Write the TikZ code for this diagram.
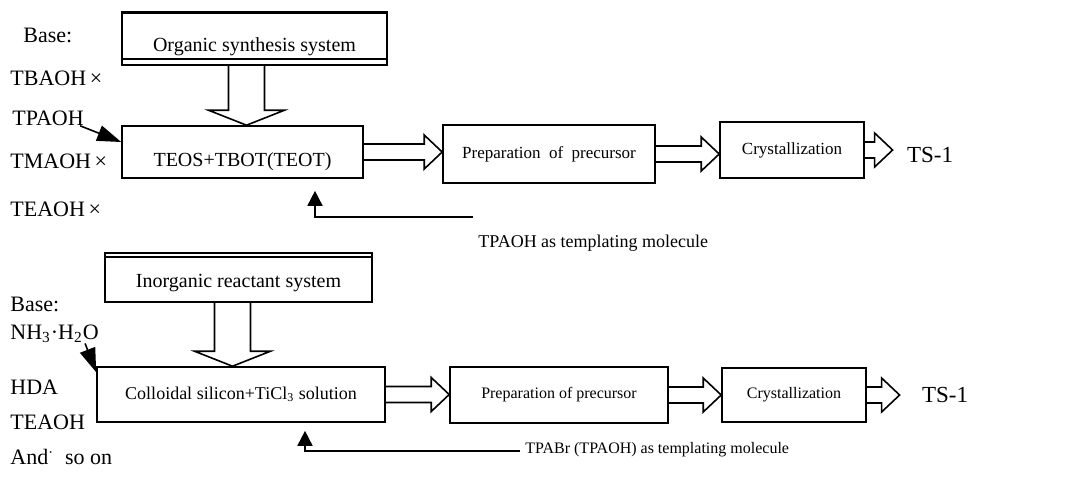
\documentclass[tikz,border=0pt]{standalone}
\usepackage{fontspec}
\setmainfont{Liberation Serif}
\usetikzlibrary{arrows.meta,calc}

\tikzset{
  stage/.style={draw, line width=0.8pt, inner sep=0pt, font=\fontsize{10}{12}\selectfont},
  hollow/.style={line width=0.8pt, line join=miter},
  base/.style={anchor=west, inner sep=0pt, font=\fontsize{11}{13}\selectfont},
  note/.style={anchor=west, inner sep=0pt},
  product/.style={inner sep=0pt, font=\fontsize{11.5}{13}\selectfont},
  feed/.style={line width=0.8pt, -{Triangle[length=12pt,width=8pt]}},
  upfeed/.style={line width=0.8pt, -{Triangle[length=7.5pt,width=7.5pt]}}
}

% open block arrow to the right, from #1 to #2
\newcommand{\fatright}[2]{%
  \draw[hollow] let \p1=(#1), \p2=(#2) in
    (\x1,\y1+4pt) -- (\x2-9pt,\y1+4pt) -- (\x2-9pt,\y1+8.5pt) -- (\x2,\y1)
    -- (\x2-9pt,\y1-8.5pt) -- (\x2-9pt,\y1-4pt) -- (\x1,\y1-4pt);}
% open block arrow downwards, from #1 to #2
\newcommand{\fatdown}[2]{%
  \draw[hollow] let \p1=(#1), \p2=(#2) in
    (\x1-9pt,\y1) -- (\x1-9pt,\y2+7.5pt) -- (\x1-19pt,\y2+7.5pt) -- (\x1,\y2)
    -- (\x1+19pt,\y2+7.5pt) -- (\x1+9pt,\y2+7.5pt) -- (\x1+9pt,\y1);}

\begin{document}
\begin{tikzpicture}[x=0.5pt, y=-0.5pt]
    \useasboundingbox (0,0) rectangle (1088,479);

    % Organic route
    \node[base] (base1) at (23,35) {Base:};
    \node[base] (tbaoh) at (10,78) {TBAOH\,×};
    \node[base] (tpaoh) at (12,118) {TPAOH};
    \node[base] (tmaoh) at (10,161) {TMAOH\,×};
    \node[base] (teaoh1) at (10,209) {TEAOH\,×};

    \node[stage, minimum width=132.5pt, minimum height=26pt, text height=12pt, text depth=0pt] (org) at (254.5,39) {Organic synthesis system};
    \draw[line width=1.6pt] (org.north west) -- (org.north east);
    \draw[line width=0.8pt] ([yshift=3.5pt]org.south west) -- ([yshift=3.5pt]org.south east);

    \node[stage, minimum width=120.5pt, minimum height=26pt, text height=14pt, text depth=0pt] (teos) at (242.5,152) {TEOS+TBOT(TEOT)};
    \node[stage, minimum width=106pt, minimum height=29pt, font=\fontsize{8.5}{10}\selectfont] (prec1) at (549,154) {Preparation\ \ of\ \ precursor};
    \node[stage, minimum width=72pt, minimum height=28pt, font=\fontsize{8.5}{10}\selectfont] (cryst1) at (792,150) {Crystallization};
    \node[product] (ts1) at (930,155) {TS-1};
    \node[note, font=\fontsize{9}{11}\selectfont] (tmpl1) at (478,243) {TPAOH as templating molecule};
    \coordinate (line1) at (473,217);

    \fatdown{[xshift=-4pt]org.south}{teos.north}
    \fatright{teos.east}{prec1.west}
    \fatright{prec1.east}{cryst1.west}
    \fatright{cryst1.east}{[xshift=-7pt]ts1.west}

    \draw[feed] ([xshift=-2pt]tpaoh.south east) -- ([yshift=5pt]teos.west);
    \draw[upfeed] (line1) -| ([xshift=36.25pt,yshift=-6pt]teos.south);

    % Inorganic route
    \node[base] (base2) at (10,304) {Base:};
    \node[base] (nh) at (10,334) {NH\textsubscript{3}·H\textsubscript{2}O};
    \node[base] (hda) at (10,387) {HDA};
    \node[base] (teaoh2) at (10,422) {TEAOH};
    \node[base] (etc) at (10,457) {And\textsuperscript{$\cdot$}\ \ so on};

    \node[stage, minimum width=133.5pt, minimum height=24.5pt, text height=10pt, text depth=0pt] (inorg) at (238.5,277.5) {Inorganic reactant system};
    \draw[line width=0.8pt] ([yshift=-2.5pt]inorg.north west) -- ([yshift=-2.5pt]inorg.north east);

    \node[stage, minimum width=144pt, minimum height=27.5pt, font=\fontsize{9}{11}\selectfont] (coll) at (241,394.5) {Colloidal silicon+TiCl\textsubscript{3} solution};
    \node[stage, minimum width=109pt, minimum height=28pt, font=\fontsize{8}{10}\selectfont] (prec2) at (559,395) {Preparation of precursor};
    \node[stage, minimum width=72pt, minimum height=27pt, font=\fontsize{8}{10}\selectfont] (cryst2) at (794,395) {Crystallization};
    \node[product] (ts2) at (945,395) {TS-1};
    \node[note, font=\fontsize{8}{10}\selectfont] (tmpl2) at (525,450) {TPABr (TPAOH) as templating molecule};
    \coordinate (line2) at (520,451);

    \fatdown{[xshift=-3pt]inorg.south}{coll.north}
    \fatright{coll.east}{prec2.west}
    \fatright{prec2.east}{cryst2.west}
    \fatright{cryst2.east}{[xshift=-11pt]ts2.west}

    \draw[feed] ([xshift=-7pt]nh.south east) -- ([yshift=-3pt]coll.north west);
    \draw[upfeed] (line2) -| ([xshift=32pt,yshift=-4pt]coll.south);
\end{tikzpicture}
\end{document}
